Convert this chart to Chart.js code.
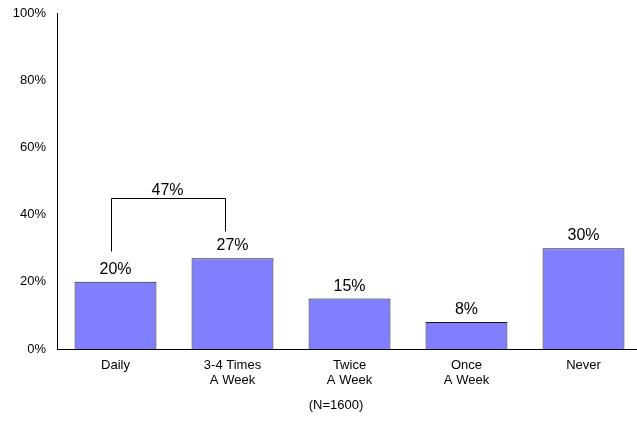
<!DOCTYPE html>
<html><head><meta charset="utf-8">
<script src="https://cdn.jsdelivr.net/npm/chart.js@4/dist/chart.umd.min.js"></script>
<style>html,body{margin:0;padding:0;overflow:hidden;background:#fff}#wrap{width:642px;height:440px}</style>
</head><body><div id="wrap"><canvas id="c"></canvas></div>
<script>
const categories = [['Daily'], ['3-4 Times','A Week'], ['Twice','A Week'], ['Once','A Week'], ['Never']];
const values = [20, 27, 15, 8, 30];
const yTicks = [0, 20, 40, 60, 80, 100];
const bracketLabel = '47%';
const bracketFrom = 0, bracketTo = 1;
const bracketTop = 45, bracketLeftBottom = 29, bracketRightBottom = 35;
const footnote = '(N=1600)';
const FONT = '"Liberation Sans", Arial, sans-serif';

const overlay = {
  id: 'overlay',
  afterDatasetsDraw(chart) {
    const ctx = chart.ctx, x = chart.scales.x, y = chart.scales.y;
    ctx.save();
    ctx.fillStyle = '#000';
    ctx.font = '16px ' + FONT;
    ctx.textAlign = 'center';
    ctx.textBaseline = 'alphabetic';
    const meta = chart.getDatasetMeta(0);
    meta.data.forEach((bar, i) => {
      ctx.fillText(values[i] + '%', bar.x, bar.y - 8);
    });
    // bracket
    const xl = x.getPixelForValue(bracketFrom) - 5;
    const xr = x.getPixelForValue(bracketTo) - 8;
    const yt = Math.round(y.getPixelForValue(bracketTop)) + 0.5;
    ctx.strokeStyle = '#000';
    ctx.lineWidth = 1;
    ctx.beginPath();
    ctx.moveTo(Math.round(xl) + 0.5, y.getPixelForValue(bracketLeftBottom));
    ctx.lineTo(Math.round(xl) + 0.5, yt);
    ctx.lineTo(Math.round(xr) + 0.5, yt);
    ctx.lineTo(Math.round(xr) + 0.5, y.getPixelForValue(bracketRightBottom));
    ctx.stroke();
    ctx.fillText(bracketLabel, (xl + xr) / 2, yt - 4);
    // footnote
    ctx.font = '13px ' + FONT;
    ctx.textBaseline = 'middle';
    ctx.fillText(footnote, 336, chart.chartArea.bottom + 56);
    ctx.restore();
  }
};

new Chart(document.getElementById('c'), {
  type: 'bar',
  data: {
    labels: categories,
    datasets: [{
      data: values,
      backgroundColor: '#8080FF',
      borderColor: '#1a1a1a',
      borderWidth: 1,
      barPercentage: 0.7,
      categoryPercentage: 1
    }]
  },
  options: {
    responsive: true,
    maintainAspectRatio: false,
    animation: false,
    layout: { padding: { top: 13, right: 0, left: 0, bottom: 0 } },
    plugins: { legend: { display: false }, tooltip: { enabled: false } },
    scales: {
      x: {
        grid: { display: false, drawTicks: false },
        border: { color: '#000', width: 1 },
        ticks: { color: '#000', font: { family: FONT, size: 13, lineHeight: 1.15 }, padding: 9, maxRotation: 0 },
        afterFit(s) { s.height = 91; s.paddingLeft = 0; s.paddingRight = 0; }
      },
      y: {
        min: 0, max: 100,
        afterBuildTicks(s) { s.ticks = yTicks.map(v => ({ value: v })); },
        grid: { display: false, drawTicks: false },
        border: { color: '#000', width: 1 },
        ticks: { color: '#000', font: { family: FONT, size: 13 }, padding: 11, callback: v => v + '%' },
        afterFit(s) { s.width = 57; s.paddingTop = 0; s.paddingBottom = 0; }
      }
    }
  },
  plugins: [overlay]
});
</script></body></html>
